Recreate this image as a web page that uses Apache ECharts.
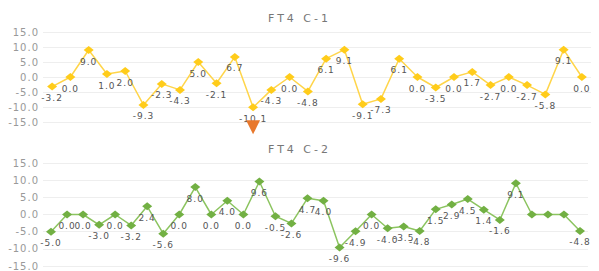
<!DOCTYPE html>
<html>
<head>
<meta charset="utf-8">
<script src="https://cdn.jsdelivr.net/npm/echarts@6/dist/echarts.min.js"></script>
<style>
    html, body { margin: 0; padding: 0; background: #fff; }
    #chart { width: 599px; height: 271px; }
    #chart text { letter-spacing: 1px; }
    #chart text[style*="11px"] { letter-spacing: 3px; }
</style>
</head>
<body>
<div id="chart"></div>
<script>
var titles = ['FT4 C-1', 'FT4 C-2'];
var yTicks = [-15, -10, -5, 0, 5, 10, 15];
var c1Values = [-3.2, 0, 9.0, 1.0, 2.0, -9.3, -2.3, -4.3, 5.0, -2.1, 6.7, -10.1, -4.3, 0, -4.8,
    6.1, 9.1, -9.1, -7.3, 6.1, 0, -3.5, 0, 1.7, -2.7, 0, -2.7, -5.8, 9.1, 0];
var c2Values = [-5.0, 0, 0, -3.0, 0, -3.2, 2.4, -5.6, 0, 8.0, 0, 4.0, 0, 9.6, -0.5, -2.6, 4.7,
    4.0, -9.6, -4.9, 0, -4.0, -3.5, -4.8, 1.5, 2.9, 4.5, 1.4, -1.6, 9.1, 0, 0, 0, -4.8];
// points drawn without a value label
var c2NoLabel = [30, 31, 32];

var c1Cats = c1Values.map(function(v, i) { return String(i + 1); });
var c2Cats = c2Values.map(function(v, i) { return String(i + 1); });

window.addEventListener('load', function() {
    var myChart = echarts.init(document.getElementById('chart'), null, { renderer: 'svg' });

    function yAxis(idx) {
        return {
            type: 'value',
            gridIndex: idx,
            min: yTicks[0],
            max: yTicks[yTicks.length - 1],
            interval: 5,
            axisLine: { show: false },
            axisTick: { show: false },
            axisLabel: {
                color: '#999',
                fontSize: 10,
                fontFamily: 'DejaVu Sans',
                margin: 4,
                formatter: function(v) { return v.toFixed(1); }
            },
            splitLine: { lineStyle: { color: '#eee' } }
        };
    }

    function xAxis(idx, cats) {
        return {
            type: 'category',
            gridIndex: idx,
            data: cats,
            axisLine: { show: false },
            axisTick: { show: false },
            axisLabel: { show: false },
            splitLine: { show: false }
        };
    }

    var labelStyle = {
        show: true,
        position: 'bottom',
        distance: 3,
        color: '#555',
        fontSize: 9,
        fontFamily: 'DejaVu Sans',
        formatter: function(p) { return Number(p.value).toFixed(1); }
    };

    var option = {
        animation: false,
        title: [{
            text: titles[0],
            left: 'center',
            top: 8,
            textStyle: { color: '#777', fontSize: 11, fontWeight: 'normal', fontFamily: 'DejaVu Sans' }
        }, {
            text: titles[1],
            left: 'center',
            top: 139,
            textStyle: { color: '#777', fontSize: 11, fontWeight: 'normal', fontFamily: 'DejaVu Sans' }
        }],
        grid: [
            { left: 43, right: 8, top: 32, height: 90 },
            { left: 43, right: 11, top: 163, height: 104 }
        ],
        xAxis: [xAxis(0, c1Cats), xAxis(1, c2Cats)],
        yAxis: [yAxis(0), yAxis(1)],
        series: [{
            name: titles[0],
            type: 'line',
            xAxisIndex: 0,
            yAxisIndex: 0,
            data: c1Values,
            symbol: 'diamond',
            symbolSize: [10, 8],
            lineStyle: { color: '#FFD54A', width: 1.5 },
            itemStyle: { color: '#FFCC1A' },
            label: labelStyle,
            markPoint: {
                data: [{ type: 'min' }],
                symbol: 'path://M0 0L14 0L7 14Z',
                symbolSize: [14, 14],
                symbolOffset: [0, 20],
                itemStyle: { color: '#E8782C' },
                label: { show: false }
            }
        }, {
            name: titles[1],
            type: 'line',
            xAxisIndex: 1,
            yAxisIndex: 1,
            data: c2Values.map(function(v, i) {
                return c2NoLabel.indexOf(i) >= 0 ? { value: v, label: { show: false } } : v;
            }),
            symbol: 'diamond',
            symbolSize: [10, 8],
            lineStyle: { color: '#8CC460', width: 1.5 },
            itemStyle: { color: '#72B043' },
            label: labelStyle
        }]
    };

    myChart.setOption(option);
});
</script>
</body>
</html>
